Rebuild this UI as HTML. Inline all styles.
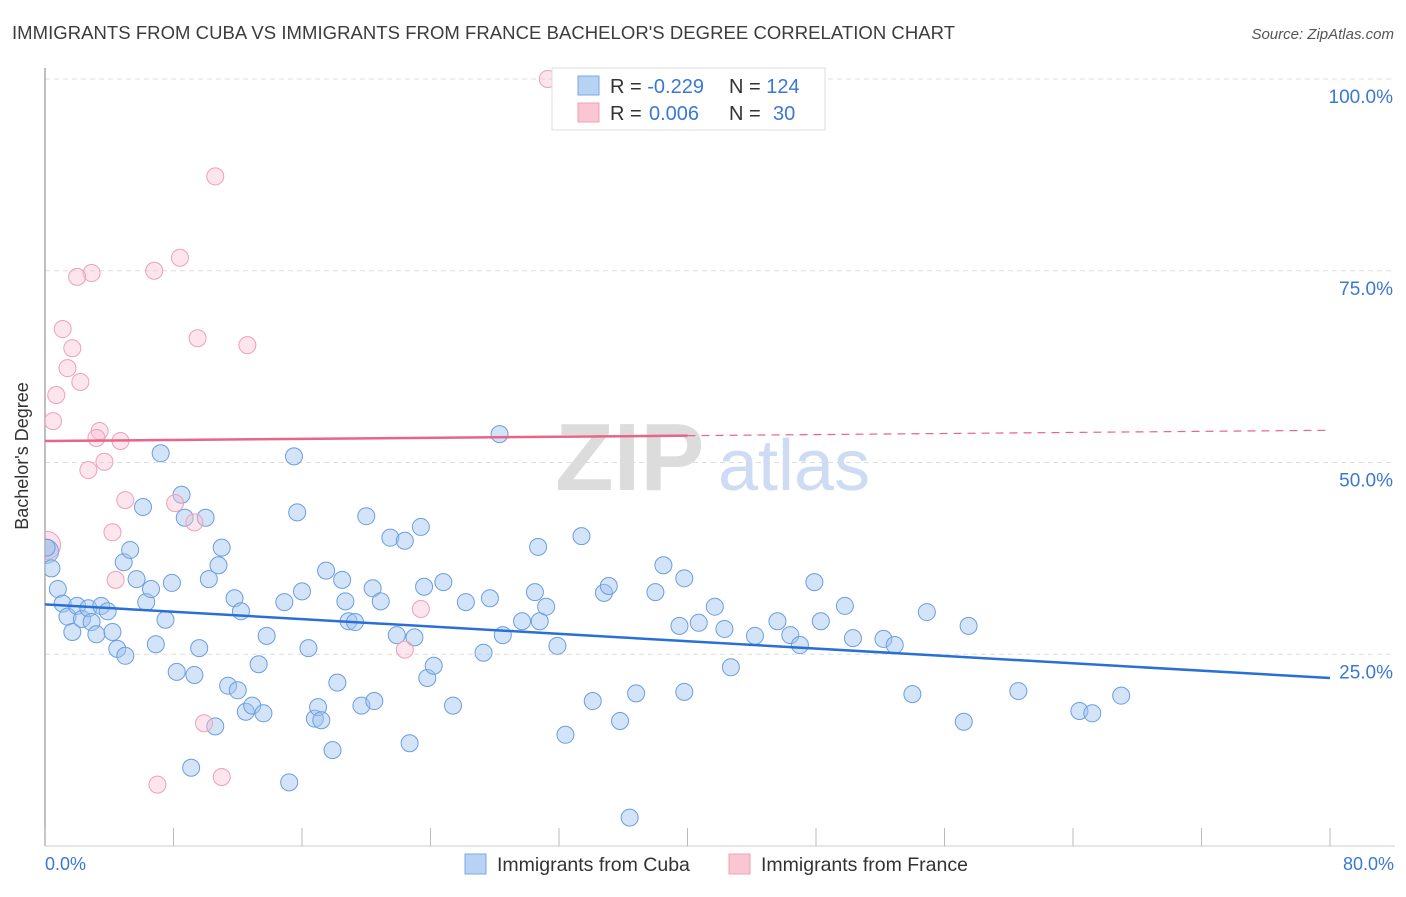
<!DOCTYPE html>
<html><head><meta charset="utf-8"><style>
body{margin:0;background:#fff;font-family:"Liberation Sans",sans-serif;}
svg text{font-family:"Liberation Sans",sans-serif;}
</style></head><body>
<svg id="chart" width="1406" height="892" xmlns="http://www.w3.org/2000/svg">
<defs><clipPath id="plotclip"><rect x="45" y="60" width="1350" height="786"/></clipPath></defs>
<text x="12" y="39" font-size="18.5" fill="#3c3c3c" textLength="943">IMMIGRANTS FROM CUBA VS IMMIGRANTS FROM FRANCE BACHELOR'S DEGREE CORRELATION CHART</text>
<text x="1394" y="39" font-size="15" fill="#555" font-style="italic" text-anchor="end">Source: ZipAtlas.com</text>
<g id="grid"></g>
<g id="ylabels"></g>
<g>
<text x="555" y="490" font-size="96" fill="#dcdcdc" font-family="Liberation Serif" font-weight="bold">ZIP</text>
<text x="718" y="490" font-size="72" fill="#cddcf2">atlas</text>
</g>
<line x1="45" y1="68" x2="45" y2="846" stroke="#aaa" stroke-width="1.5"/>
<line x1="45" y1="846" x2="1395" y2="846" stroke="#ccc" stroke-width="1"/>
<g id="xticks"></g>
<g id="points" clip-path="url(#plotclip)"></g>
<g id="trends"></g>
<text x="28" y="456" font-size="18" fill="#333" text-anchor="middle" transform="rotate(-90 28 456)">Bachelor's Degree</text>
<text x="45" y="870" font-size="18" fill="#3a78d4">0.0%</text>
<text x="1394" y="870" font-size="18" fill="#3a78d4" text-anchor="end">80.0%</text>
<g>
<rect x="552" y="68" width="273" height="62" fill="#fff" stroke="#ddd"/>
<rect x="578" y="76" width="21" height="19" fill="#b8d2f4" stroke="#7aa8e6"/>
<rect x="578" y="103" width="21" height="19" fill="#f9c6d4" stroke="#eea0b8"/>
<text x="610" y="93" font-size="20" fill="#333">R = <tspan fill="#3a78d4">-0.229</tspan></text>
<text x="729" y="93" font-size="20" fill="#333">N = <tspan fill="#3a78d4">124</tspan></text>
<text x="610" y="120" font-size="20" fill="#333">R = <tspan fill="#3a78d4" x="649">0.006</tspan></text>
<text x="729" y="120" font-size="20" fill="#333">N = <tspan fill="#3a78d4" x="773">30</tspan></text>
</g>
<g>
<rect x="465" y="854" width="21" height="20" fill="#b8d2f4" stroke="#7aa8e6"/>
<text x="497" y="871" font-size="19.5" fill="#333">Immigrants from Cuba</text>
<rect x="729" y="854" width="21" height="20" fill="#f9c6d4" stroke="#eea0b8"/>
<text x="761" y="871" font-size="19.5" fill="#333">Immigrants from France</text>
</g>
</svg>
<script>
const yTicks=[25,50,75,100];
const yTickLabels=["25.0%","50.0%","75.0%","100.0%"];
const xTicks=[0,8,16,24,32,40,48,56,64,72,80];
const cubaX=[0.1,0.4,0.8,1.1,1.4,1.7,2.0,2.3,2.7,2.9,3.2,3.5,3.9,4.2,4.5,5.0,4.9,5.3,5.7,6.1,6.3,6.6,6.9,7.5,7.9,7.2,8.2,8.5,8.7,9.3,9.1,9.6,10.0,10.2,10.6,10.8,11.0,11.4,11.8,12.0,12.2,12.5,12.9,13.3,13.6,13.8,14.9,15.2,15.5,15.7,16.0,16.4,16.8,17.0,17.2,17.5,17.9,18.2,18.5,18.7,18.9,19.3,20.0,19.7,20.4,20.5,20.9,21.5,21.9,22.4,22.7,23.0,23.4,23.6,23.8,24.2,24.8,25.4,26.2,27.3,27.7,28.3,28.5,29.7,30.5,30.8,30.7,31.2,31.9,32.4,33.4,34.1,34.8,35.1,35.8,36.4,36.8,38.0,38.5,39.5,39.8,39.8,40.7,41.7,42.3,42.7,44.2,45.6,46.4,47.0,47.9,48.3,49.8,50.3,52.2,52.9,54.0,54.9,57.2,57.5,60.6,64.4,65.2,67.0];
const cubaY=[38.9,36.2,33.5,31.6,29.9,27.9,31.3,29.6,31.0,29.2,27.6,31.3,30.6,27.9,25.7,24.8,37.0,38.6,34.8,44.2,31.8,33.5,26.3,29.5,34.3,51.2,22.7,45.8,42.8,22.3,10.2,25.8,42.8,34.8,15.6,36.6,38.9,20.9,32.3,20.3,30.6,17.5,18.3,23.7,17.3,27.4,31.8,8.3,50.8,43.5,33.2,25.8,16.6,18.1,16.4,35.9,12.5,21.3,34.7,31.9,29.3,29.2,43.0,18.3,33.6,18.9,31.9,40.2,27.5,39.8,13.4,27.2,41.6,33.8,21.9,23.5,34.4,18.3,31.8,25.2,32.3,53.7,27.5,29.3,33.1,29.3,39.0,31.2,26.1,14.5,40.4,18.9,33.0,33.9,16.3,3.7,19.9,33.1,36.6,28.7,34.9,20.1,29.1,31.2,28.3,23.3,27.4,29.3,27.5,26.2,34.4,29.3,31.3,27.1,27.0,26.2,19.8,30.5,16.2,28.7,20.2,17.6,17.3,19.6];
const franceX=[31.3,10.6,8.4,6.8,2.9,2.0,1.1,9.5,12.6,1.7,1.4,2.2,0.7,0.5,3.4,3.2,4.7,3.7,2.7,5.0,8.1,9.3,4.2,4.4,23.4,22.4,9.9,11.0,7.0];
const franceY=[100.0,87.3,76.7,75.0,74.7,74.2,67.4,66.2,65.3,64.9,62.3,60.5,58.8,55.4,54.1,53.2,52.8,50.1,49.0,45.1,44.7,42.2,40.9,34.7,30.9,25.6,16.0,9.0,8.0];
const bigX=[0.1,0.1];
const bigY=[39.2,38.4];
const cubaTrend=[31.5,21.9];
const franceTrend=[52.8,54.2];
const franceSolidEnd=40;

const X=v=>45+v*(1285/80);
const Y=v=>846-v*7.67;
const NS="http://www.w3.org/2000/svg";
function mk(tag,attrs,parent){const e=document.createElementNS(NS,tag);for(const k in attrs)e.setAttribute(k,attrs[k]);document.getElementById(parent).appendChild(e);return e;}

yTicks.forEach((t,i)=>{
  const l=mk('line',{x1:45,x2:1395,y1:Y(t),y2:Y(t),stroke:'#ddd','stroke-dasharray':'5,4'},'grid');
  
  
  const tx=mk('text',{x:1393,y:Y(t)+24,'font-size':19,fill:'#3a78d4','text-anchor':'end'},'ylabels');
  tx.textContent=yTickLabels[i];
  
  
});
xTicks.forEach(t=>{
  const l=mk('line',{x1:X(t),x2:X(t),y1:828,y2:846,stroke:'#bbb'},'xticks');
  
  
});
bigX.forEach((x,i)=>{
  const c=mk('circle',{cx:X(x),cy:Y(bigY[i]),r:i==0?14:12,fill:i==0?'rgba(244,170,192,0.35)':'rgba(160,190,235,0.5)',stroke:i==0?'#eea0b8':'#7aa8e6','stroke-width':1},'points');
  
  
});
cubaX.forEach((x,i)=>{
  const c=mk('circle',{cx:X(x),cy:Y(cubaY[i]),r:8.5,fill:'rgba(160,195,240,0.45)',stroke:'#6a9ee0','stroke-width':1},'points');
  
  
});
franceX.forEach((x,i)=>{
  const c=mk('circle',{cx:X(x),cy:Y(franceY[i]),r:8.5,fill:'rgba(248,190,208,0.4)',stroke:'#eea0b8','stroke-width':1},'points');
  
  
});
const ct=mk('line',{x1:X(0),y1:Y(cubaTrend[0]),x2:X(80),y2:Y(cubaTrend[1]),stroke:'#2a6fd6','stroke-width':2.5},'trends');


const fm=franceTrend[0]+(franceTrend[1]-franceTrend[0])*franceSolidEnd/80;
const fs=mk('line',{x1:X(0),y1:Y(franceTrend[0]),x2:X(franceSolidEnd),y2:Y(fm),stroke:'#e8648a','stroke-width':2.5},'trends');


const fd=mk('line',{x1:X(franceSolidEnd),y1:Y(fm),x2:X(80),y2:Y(franceTrend[1]),stroke:'#e8648a','stroke-width':1.2,'stroke-dasharray':'8,6'},'trends');


</script>
</body></html>
